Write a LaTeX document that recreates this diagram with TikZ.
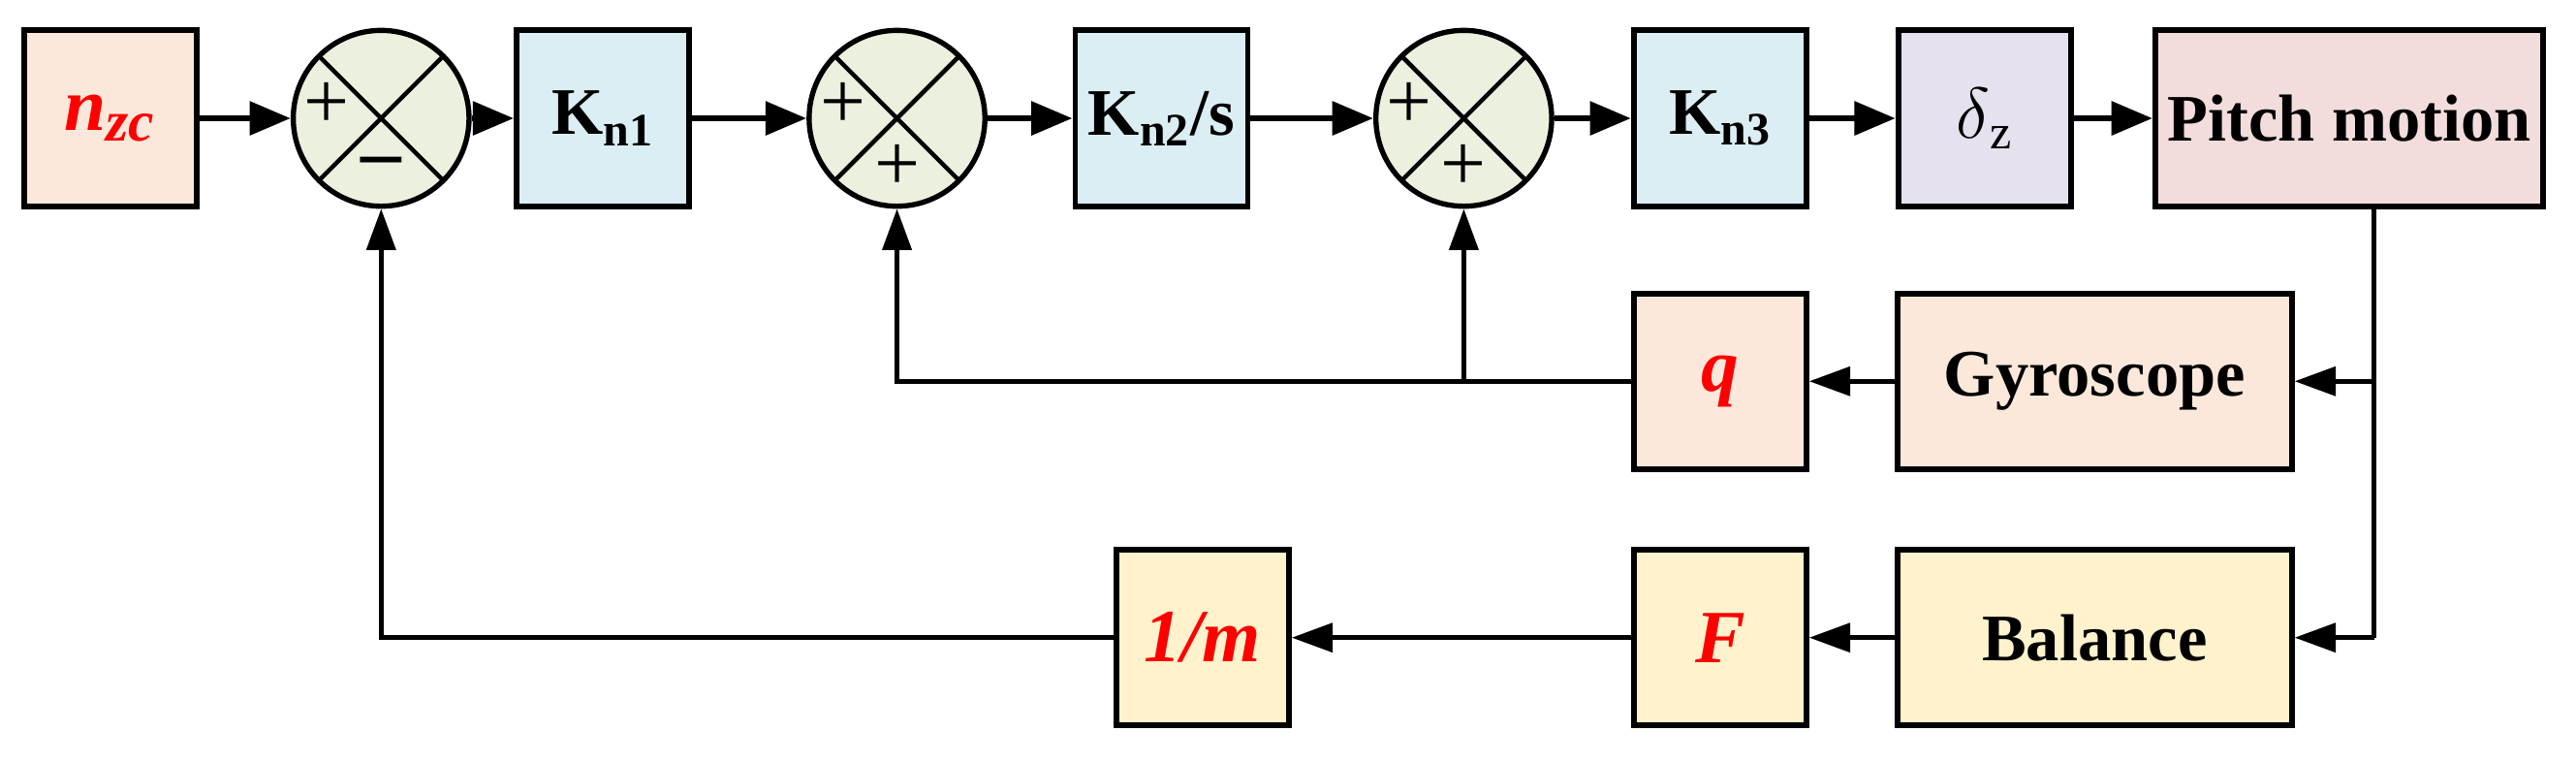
\documentclass[tikz,border=0pt]{standalone}
\usepackage{fontspec}
\setmainfont{Liberation Serif}
\usetikzlibrary{arrows.meta}
\definecolor{peach}{RGB}{252,232,218}
\definecolor{kblue}{RGB}{218,238,244}
\definecolor{sgreen}{RGB}{235,241,222}
\definecolor{lav}{RGB}{230,225,238}
\definecolor{rose}{RGB}{242,221,220}
\definecolor{ylw}{RGB}{255,242,204}
\tikzset{
  blk/.style={draw, line width=2pt, minimum width=2.1cm, minimum height=2.14cm, font=\fontsize{23}{27}\selectfont\bfseries},
  sig/.style={text=red, font=\fontsize{26}{30}\selectfont\bfseries\itshape},
  sum/.style={draw, circle, line width=1.8pt, fill=sgreen, minimum size=2.14cm, inner sep=0pt,
    path picture={\draw[line width=1.5pt] (path picture bounding box.south west) -- (path picture bounding box.north east)
      (path picture bounding box.north west) -- (path picture bounding box.south east);}},
  sgn/.style={font=\fontsize{28}{32}\selectfont},
  fwd/.style={line width=2.2pt, -{Triangle[length=0.5cm,width=0.4cm]}},
  fb/.style={line width=1.6pt, -{Triangle[length=0.5cm,width=0.35cm]}}
}
\begin{document}
\begin{tikzpicture}
  \useasboundingbox (0,0) rectangle (31.36,9.28);

  % forward path
  \node[blk, fill=peach, sig] (nzc) at (1.34,7.84) {n\textsubscript{\fontsize{20}{24}\selectfont zc}};
  \node[sum] (s1) at (4.64,7.84) {};
  \node[blk, fill=kblue] (kn1) at (7.34,7.84) {K\textsubscript{n1}};
  \node[sum] (s2) at (10.92,7.84) {};
  \node[blk, fill=kblue] (kn2) at (14.14,7.84) {K\textsubscript{n2}/s};
  \node[sum] (s3) at (17.82,7.84) {};
  \node[blk, fill=kblue] (kn3) at (20.94,7.84) {K\textsubscript{n3}};
  \node[blk, fill=lav, font=\fontsize{24}{28}\selectfont] (dz) at (24.16,7.84) {$\delta$\textsubscript{z}};
  \node[blk, fill=rose, minimum width=4.72cm] (pm) at (28.6,7.84) {Pitch motion};

  % feedback blocks
  \node[blk, fill=peach, minimum width=4.8cm] (gyro) at (25.5,4.64) {Gyroscope};
  \node[blk, fill=peach, sig] (q) at (20.94,4.64) {q};
  \node[blk, fill=ylw, minimum width=4.8cm] (bal) at (25.5,1.52) {Balance};
  \node[blk, fill=ylw, sig] (F) at (20.94,1.52) {F};
  \node[blk, fill=ylw, sig] (m) at (14.64,1.52) {1/m};

  % signs
  \node[sgn] at ([xshift=-0.66cm,yshift=0.15cm]s1.center) {+};
  \node[sgn] at ([yshift=-0.6cm]s1.center) {\textbf{--}};
  \node[sgn] at ([xshift=-0.66cm,yshift=0.15cm]s2.center) {+};
  \node[sgn] at ([yshift=-0.6cm]s2.center) {+};
  \node[sgn] at ([xshift=-0.66cm,yshift=0.15cm]s3.center) {+};
  \node[sgn] at ([yshift=-0.6cm]s3.center) {+};

  \draw[fwd] (nzc) -- (s1);
  \draw[fwd] (s1) -- (kn1);
  \draw[fwd] (kn1) -- (s2);
  \draw[fwd] (s2) -- (kn2);
  \draw[fwd] (kn2) -- (s3);
  \draw[fwd] (s3) -- (kn3);
  \draw[fwd] (kn3) -- (dz);
  \draw[fwd] (dz) -- (pm);

  % feedback
  \coordinate (r1) at (28.9,4.64);
  \coordinate (r2) at (28.9,1.52);
  \coordinate (j) at (17.82,4.64);
  \draw[line width=1.6pt] (pm.south -| r1) -- (r2);
  \draw[fb] (r1) -- (gyro);
  \draw[fb] (r2) -- (bal);
  \draw[fb] (gyro) -- (q);
  \draw[fb] (bal) -- (F);
  \draw[fb] (F) -- (m);
  \draw[fb] (q) -| (s2);
  \draw[fb] (j) -- (s3);
  \draw[fb] (m) -| (s1);
\end{tikzpicture}
\end{document}
